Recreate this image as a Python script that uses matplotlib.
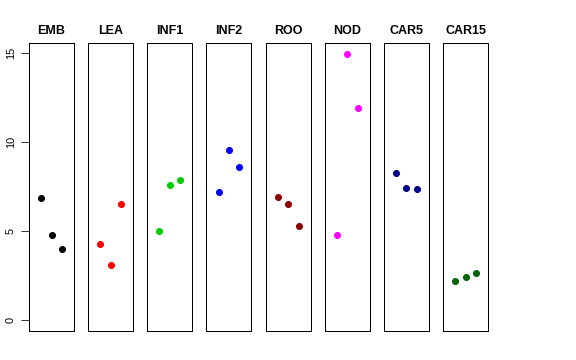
import matplotlib
matplotlib.use("Agg")
import matplotlib.pyplot as plt

panels = ["EMB", "LEA", "INF1", "INF2", "ROO", "NOD", "CAR5", "CAR15"]
colors = ["black", "#FF0000", "#00CD00", "#0000FF", "#8B0000", "#FF00FF", "#00008B", "#006400"]
x_pos = [1, 2, 3]
values = {
    "EMB":   [6.88, 4.78, 4.01],
    "LEA":   [4.29, 3.09, 6.51],
    "INF1":  [4.99, 7.57, 7.89],
    "INF2":  [7.20, 9.56, 8.60],
    "ROO":   [6.94, 6.51, 5.31],
    "NOD":   [4.80, 14.98, 11.90],
    "CAR5":  [8.29, 7.42, 7.35],
    "CAR15": [2.17, 2.44, 2.63],
}
yticks = [0, 5, 10, 15]

plt.rcParams["font.family"] = ["Liberation Sans", "DejaVu Sans"]
W, H = 576, 360
fig = plt.figure(figsize=(W / 72, H / 72), dpi=72)

left0, pitch, width = 29.0, 59.15, 45.0
top, bottom = 42.7, 330.7
for i, (name, col) in enumerate(zip(panels, colors)):
    xl = left0 + i * pitch
    ax = fig.add_axes([xl / W, (H - bottom) / H, width / W, (bottom - top) / H])
    ax.plot(x_pos, values[name], "o", color=col, ms=6, mec=col)
    ax.set_xlim(-0.16, 4.16)
    ax.set_ylim(-0.6, 15.6)
    ax.set_xticks([])
    for s in ax.spines.values():
        s.set_linewidth(1.0)
        s.set_color("black")
    ax.set_title(name, fontsize=12.5, fontweight="bold", pad=9)
    if i == 0:
        ax.set_yticks(yticks)
        ax.set_yticklabels([str(t) for t in yticks], rotation=90, va="center", fontsize=11)
        ax.tick_params(axis="y", length=8, width=0.8, pad=5)
    else:
        ax.set_yticks([])

fig.savefig("out.png", dpi=72)
